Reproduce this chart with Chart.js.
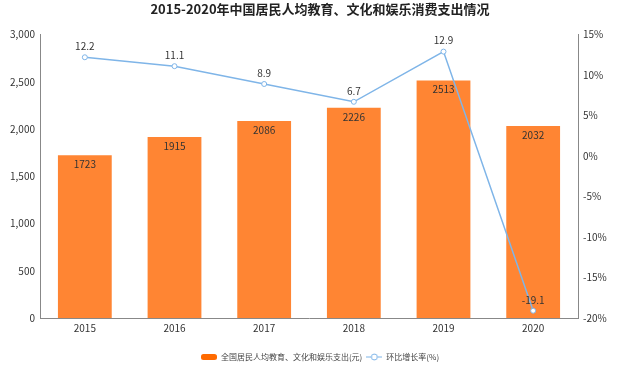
<!DOCTYPE html>
<html lang="zh">
<head>
<meta charset="UTF-8">
<title>2015-2020年中国居民人均教育、文化和娱乐消费支出情况</title>
<script src="https://cdn.jsdelivr.net/npm/chart.js"></script>
<style>
  body { margin: 0; background: #fff; }
  .box { width: 640px; height: 366px; }
</style>
</head>
<body>
<div class="box"><canvas id="c" width="640" height="366"></canvas></div>
<script>
  const years = ['2015', '2016', '2017', '2018', '2019', '2020'];
  const spending = [1723, 1915, 2086, 2226, 2513, 2032];
  const growth = [12.2, 11.1, 8.9, 6.7, 12.9, -19.1];

  const FONT = '"Noto Sans CJK SC", "Noto Sans", sans-serif';
  const ORANGE = '#ff8533';
  const BLUE = '#7fb5e8';

  // legend icons drawn on small canvases
  function barIcon() {
    const c = document.createElement('canvas');
    c.width = 16; c.height = 8;
    const g = c.getContext('2d');
    g.fillStyle = '#ff6a00';
    g.beginPath();
    g.roundRect(0, 1, 16, 6, 2.5);
    g.fill();
    return c;
  }
  function lineIcon() {
    const c = document.createElement('canvas');
    c.width = 16; c.height = 8;
    const g = c.getContext('2d');
    g.strokeStyle = BLUE;
    g.lineWidth = 1;
    g.beginPath(); g.moveTo(0, 4); g.lineTo(16, 4); g.stroke();
    g.fillStyle = '#fff';
    g.beginPath(); g.arc(8, 4, 3, 0, Math.PI * 2); g.fill(); g.stroke();
    return c;
  }

  const valueLabels = {
    id: 'valueLabels',
    afterDatasetsDraw(chart) {
      const ctx = chart.ctx;
      ctx.save();
      ctx.font = '10px ' + FONT;
      ctx.fillStyle = '#333';
      ctx.textAlign = 'center';
      ctx.textBaseline = 'middle';
      chart.getDatasetMeta(1).data.forEach((el, i) => {
        ctx.fillText(spending[i], el.x, el.y + 9);
      });
      chart.getDatasetMeta(0).data.forEach((el, i) => {
        ctx.fillText(growth[i].toFixed(1), el.x, el.y - 11);
      });
      ctx.restore();
    }
  };

  new Chart(document.getElementById('c'), {
    data: {
      labels: years,
      datasets: [
        {
          type: 'line',
          label: '环比增长率(%)',
          data: growth,
          yAxisID: 'y1',
          borderColor: BLUE,
          borderWidth: 1.5,
          pointRadius: 2.5,
          pointBorderWidth: 1,
          pointBackgroundColor: '#fff',
          pointBorderColor: BLUE,
          tension: 0,
          order: 0
        },
        {
          type: 'bar',
          label: '全国居民人均教育、文化和娱乐支出(元)',
          data: spending,
          yAxisID: 'y',
          backgroundColor: ORANGE,
          barPercentage: 0.6,
          categoryPercentage: 1,
          order: 1
        }
      ]
    },
    options: {
      responsive: false,
      animation: false,
      layout: { padding: { top: 0, left: 0, right: 0, bottom: -5 } },
      plugins: {
        title: {
          display: true,
          text: '2015-2020年中国居民人均教育、文化和娱乐消费支出情况',
          color: '#222',
          font: { family: FONT, size: 13, weight: 'bold' },
          padding: { top: 1, bottom: 18 }
        },
        legend: {
          position: 'bottom',
          labels: {
            font: { family: FONT, size: 8 },
            color: '#444',
            usePointStyle: true,
            pointStyleWidth: 16,
            padding: 4,
            generateLabels(chart) {
              return [
                { text: '全国居民人均教育、文化和娱乐支出(元)', pointStyle: barIcon(), datasetIndex: 1, fontColor: '#444', lineWidth: 0, strokeStyle: 'transparent' },
                { text: '环比增长率(%)', pointStyle: lineIcon(), datasetIndex: 0, fontColor: '#444', lineWidth: 0, strokeStyle: 'transparent' }
              ];
            }
          }
        },
        tooltip: { enabled: false }
      },
      scales: {
        x: {
          grid: { display: false, drawTicks: false },
          border: { color: '#888' },
          ticks: { color: '#333', font: { family: FONT, size: 10 }, padding: 4 },
          afterFit(s) { s.height = 31; }
        },
        y: {
          position: 'left',
          min: 0, max: 3000,
          grid: { display: false, drawTicks: true, tickLength: 3, color: '#888' },
          border: { color: '#888' },
          ticks: {
            stepSize: 500, color: '#333', padding: 2,
            font: { family: FONT, size: 10 },
            callback: v => v.toLocaleString('en-US')
          },
          afterFit(s) { s.width = 40; }
        },
        y1: {
          position: 'right',
          min: -20, max: 15,
          grid: { display: false, drawTicks: true, tickLength: 3, color: '#888' },
          border: { color: '#888' },
          ticks: {
            stepSize: 5, color: '#333', padding: 2,
            font: { family: FONT, size: 10 },
            callback: v => v + '%'
          },
          afterFit(s) { s.width = 62; }
        }
      }
    },
    plugins: [valueLabels]
  });
</script>
</body>
</html>
